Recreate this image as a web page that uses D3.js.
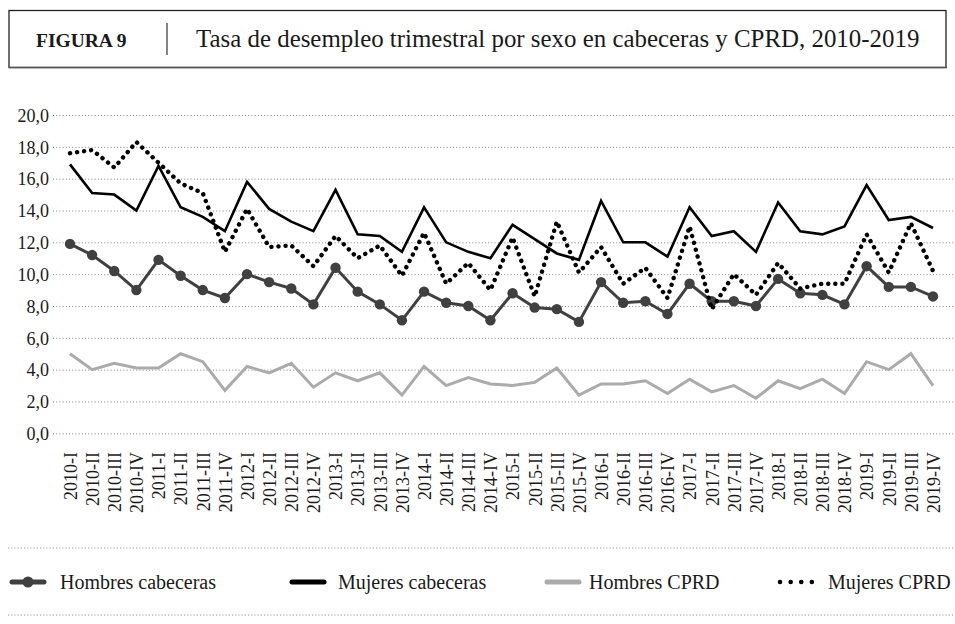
<!DOCTYPE html>
<html lang="es">
<head>
<meta charset="utf-8">
<script src="https://cdn.jsdelivr.net/npm/d3@7"></script>
<style>
  html, body { margin: 0; padding: 0; background: #fff; }
  svg { display: block; font-family: "Liberation Serif", "DejaVu Serif", serif; }
</style>
</head>
<body>
<svg id="chart" width="955" height="624"></svg>
<script>
// Quarterly labels 2010-I … 2019-IV
const years = [2010, 2011, 2012, 2013, 2014, 2015, 2016, 2017, 2018, 2019];
const quarters = ["I", "II", "III", "IV"];
const periods = years.flatMap(y => quarters.map(q => `${y}-${q}`));

// Unemployment rate (%) by sex, cabeceras and CPRD
const hombresCabeceras = [
  11.9, 11.2, 10.2, 9.0, 10.9, 9.9, 9.0, 8.5,
  10.0, 9.5, 9.1, 8.1, 10.4, 8.9, 8.1, 7.1,
  8.9, 8.2, 8.0, 7.1, 8.8, 7.9, 7.8, 7.0,
  9.5, 8.2, 8.3, 7.5, 9.4, 8.3, 8.3, 8.0,
  9.7, 8.8, 8.7, 8.1, 10.5, 9.2, 9.2, 8.6
];
const mujeresCabeceras = [
  16.9, 15.1, 15.0, 14.0, 16.8, 14.2, 13.6, 12.7,
  15.8, 14.1, 13.3, 12.7, 15.3, 12.5, 12.4, 11.4,
  14.2, 12.0, 11.4, 11.0, 13.1, 12.2, 11.3, 10.9,
  14.6, 12.0, 12.0, 11.1, 14.2, 12.4, 12.7, 11.4,
  14.5, 12.7, 12.5, 13.0, 15.6, 13.4, 13.6, 12.9
];
const hombresCPRD = [
  5.0, 4.0, 4.4, 4.1, 4.1, 5.0, 4.5, 2.7,
  4.2, 3.8, 4.4, 2.9, 3.8, 3.3, 3.8, 2.4,
  4.2, 3.0, 3.5, 3.1, 3.0, 3.2, 4.1, 2.4,
  3.1, 3.1, 3.3, 2.5, 3.4, 2.6, 3.0, 2.2,
  3.3, 2.8, 3.4, 2.5, 4.5, 4.0, 5.0, 3.0
];
const mujeresCPRD = [
  17.6, 17.8, 16.7, 18.3, 17.0, 15.7, 15.1, 11.4,
  14.1, 11.7, 11.8, 10.5, 12.4, 11.0, 11.8, 9.9,
  12.6, 9.4, 10.7, 9.0, 12.3, 8.6, 13.3, 10.1,
  11.7, 9.4, 10.4, 8.5, 13.0, 7.8, 10.0, 8.7,
  10.7, 9.1, 9.4, 9.4, 12.5, 10.1, 13.2, 10.2
];
const yTicks = [0, 2, 4, 6, 8, 10, 12, 14, 16, 18, 20];

const series = [
  { name: "Hombres cabeceras", values: hombresCabeceras, color: "#404040", width: 3, dash: null, dots: true },
  { name: "Mujeres cabeceras", values: mujeresCabeceras, color: "#000000", width: 2.6, dash: null, dots: false },
  { name: "Hombres CPRD", values: hombresCPRD, color: "#ababab", width: 3, dash: null, dots: false },
  { name: "Mujeres CPRD", values: mujeresCPRD, color: "#000000", width: 4.4, dash: "0.1,7", dots: false }
];

const svg = d3.select("#chart");
const fmt = v => d3.format(".1f")(v).replace(".", ",");

// ---- Header box ----
const header = svg.append("g");
header.append("rect")
  .attr("x", 9).attr("y", 10.5).attr("width", 937).attr("height", 57)
  .attr("fill", "none").attr("stroke", "#222").attr("stroke-width", 1.3);
header.append("line")
  .attr("x1", 9).attr("x2", 946.5).attr("y1", 67.5).attr("y2", 67.5)
  .attr("stroke", "#555").attr("stroke-width", 1.6);
header.append("text")
  .attr("x", 36).attr("y", 46.5)
  .attr("font-size", 19.5).attr("font-weight", "bold").attr("fill", "#1a1a1a")
  .text("FIGURA 9");
header.append("line")
  .attr("x1", 167).attr("x2", 167).attr("y1", 23).attr("y2", 55)
  .attr("stroke", "#333").attr("stroke-width", 1.2);
header.append("text")
  .attr("x", 196).attr("y", 47)
  .attr("font-size", 24.9).attr("fill", "#1a1a1a")
  .text("Tasa de desempleo trimestral por sexo en cabeceras y CPRD, 2010-2019");

// ---- Scales ----
const x = d3.scalePoint().domain(periods).range([70, 933]);
const y = d3.scaleLinear().domain([0, 20]).range([433.3, 115]);

// ---- Gridlines and y labels ----
const yAxis = svg.append("g")
  .attr("transform", "translate(53,0)")
  .call(d3.axisLeft(y).tickValues(yTicks).tickFormat(fmt).tickSize(-900).tickPadding(5));
yAxis.select(".domain").remove();
yAxis.selectAll(".tick line")
  .attr("stroke", "#808080").attr("stroke-width", 1).attr("stroke-dasharray", "1,2.2");
yAxis.selectAll(".tick text")
  .attr("font-family", "Liberation Serif, serif").attr("font-size", 18)
  .attr("fill", "#1a1a1a").attr("dy", "0.35em").attr("x", -4);

// ---- x labels (rotated) ----
const xAxis = svg.append("g")
  .attr("transform", "translate(0,447)")
  .call(d3.axisBottom(x).tickSize(0).tickPadding(0));
xAxis.select(".domain").remove();
xAxis.selectAll(".tick text")
  .attr("font-family", "Liberation Serif, serif").attr("font-size", 18)
  .attr("fill", "#1a1a1a")
  .attr("text-anchor", "end")
  .attr("transform", "rotate(-90)")
  .attr("x", -5).attr("y", 0).attr("dy", "0.35em");

// ---- Lines ----
const line = d3.line().x((d, i) => x(periods[i])).y(d => y(d));
const drawOrder = [2, 0, 1, 3];
drawOrder.forEach(k => {
  const s = series[k];
  const g = svg.append("g");
  g.append("path")
    .attr("d", line(s.values))
    .attr("fill", "none")
    .attr("stroke", s.color)
    .attr("stroke-width", s.width)
    .attr("stroke-linejoin", "miter")
    .attr("stroke-linecap", s.dash ? "round" : "butt")
    .attr("stroke-dasharray", s.dash);
  if (s.dots) {
    g.selectAll("circle").data(s.values).join("circle")
      .attr("cx", (d, i) => x(periods[i]))
      .attr("cy", d => y(d))
      .attr("r", 5.2)
      .attr("fill", s.color);
  }
});

// ---- Legend ----
const legend = svg.append("g");
[548, 615].forEach(yy => {
  legend.append("line")
    .attr("x1", 8).attr("x2", 955).attr("y1", yy).attr("y2", yy)
    .attr("stroke", "#888").attr("stroke-width", 1).attr("stroke-dasharray", "1,2.2");
});
const legendX = [10, 290, 545, 778];
const textOffset = [50, 48, 44, 50];
const ly = 582;
series.forEach((s, k) => {
  const x0 = legendX[k];
  const g = legend.append("g");
  if (s.dash) {
    g.append("line")
      .attr("x1", x0 + 2).attr("x2", x0 + 34).attr("y1", ly).attr("y2", ly)
      .attr("stroke", s.color).attr("stroke-width", 4.5)
      .attr("stroke-linecap", "round").attr("stroke-dasharray", "0.1,10.5");
  } else {
    g.append("line")
      .attr("x1", x0 + 2).attr("x2", x0 + 34).attr("y1", ly).attr("y2", ly)
      .attr("stroke", s.color).attr("stroke-width", 5)
      .attr("stroke-linecap", "round");
  }
  if (s.dots) {
    g.append("circle").attr("cx", x0 + 18).attr("cy", ly).attr("r", 5.5).attr("fill", s.color);
  }
  g.append("text")
    .attr("x", x0 + textOffset[k]).attr("y", ly + 6.5)
    .attr("font-size", 20).attr("fill", "#1a1a1a")
    .text(s.name);
});
</script>
</body>
</html>
